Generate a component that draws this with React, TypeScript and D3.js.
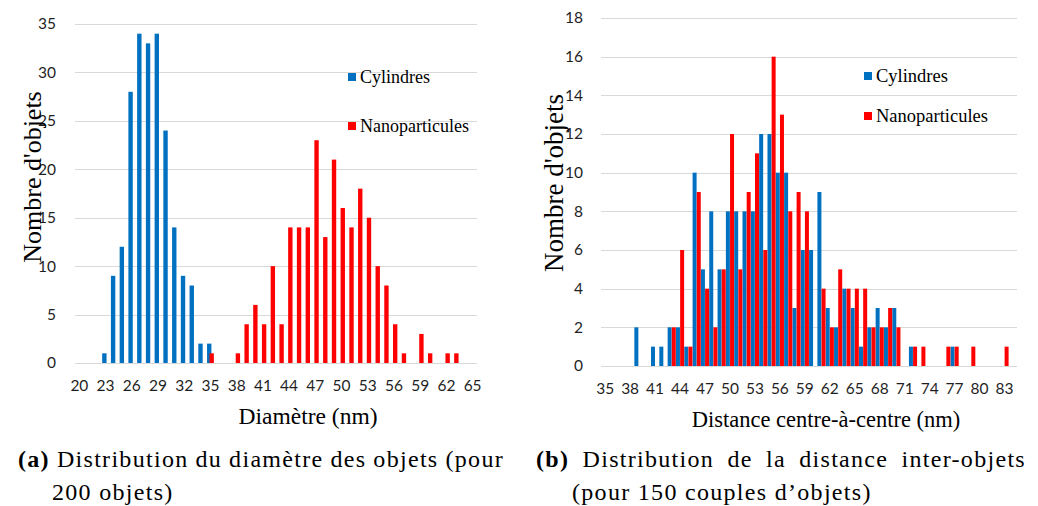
import React, { useEffect, useRef } from "react";
import * as d3 from "d3";

// ---------- Data ----------
const diamCategories: number[] = d3.range(20, 66);
const diamYTicks: number[] = [0, 5, 10, 15, 20, 25, 30, 35];
const diamCylindres: [number, number][] = [
  [23, 1], [24, 9], [25, 12], [26, 28], [27, 34], [28, 33], [29, 34], [30, 24],
  [31, 14], [32, 9], [33, 8], [34, 2], [35, 2],
];
const diamNano: [number, number][] = [
  [35, 1], [38, 1], [39, 4], [40, 6], [41, 4], [42, 10], [43, 4], [44, 14], [45, 14],
  [46, 14], [47, 23], [48, 13], [49, 21], [50, 16], [51, 14], [52, 18], [53, 15],
  [54, 10], [55, 8], [56, 4], [57, 1], [59, 3], [60, 1], [62, 1], [63, 1],
];

const distCategories: number[] = d3.range(35, 85);
const distYTicks: number[] = [0, 2, 4, 6, 8, 10, 12, 14, 16, 18];
const distCylindres: [number, number][] = [
  [39, 2], [41, 1], [42, 1], [43, 2], [44, 2], [45, 1], [46, 10], [47, 5], [48, 8],
  [49, 5], [50, 8], [51, 8], [52, 8], [53, 8], [54, 12], [55, 12], [56, 10], [57, 10],
  [58, 3], [59, 6], [60, 6], [61, 9], [62, 3], [63, 2], [64, 4], [65, 3], [66, 1],
  [67, 2], [68, 3], [69, 2], [70, 3], [72, 1], [77, 1],
];
const distNano: [number, number][] = [
  [43, 2], [44, 6], [45, 1], [46, 9], [47, 4], [48, 2], [49, 5], [50, 12], [51, 5],
  [52, 9], [53, 11], [54, 6], [55, 16], [56, 13], [57, 8], [58, 9], [59, 8], [61, 4],
  [62, 2], [63, 5], [64, 4], [65, 4], [66, 4], [67, 2], [68, 2], [69, 3], [70, 2],
  [72, 1], [73, 1], [76, 1], [77, 1], [79, 1], [83, 1],
];

const seriesNames = ["Cylindres", "Nanoparticules"];
const BLUE = "#0070C0";
const RED = "#FF0000";
const GRID = "#d9d9d9";
const TICK_FONT = "Lato, 'Open Sans', sans-serif";
const SERIF = "'Liberation Serif', 'Times New Roman', serif";

type Panel = {
  categories: number[];
  yTicks: number[];
  yMax: number;
  x0: number;
  x1: number;
  yTop: number;
  yBottom: number;
  barFrac: number;
  offset: number;
  cyl: [number, number][];
  nano: [number, number][];
  yLabelX: number;
  yTitleX: number;
  yTitleY: number;
  yTitleSize: number;
  xTitle: string;
  xTitleX: number;
  xTitleSize: number;
  legendX: number;
  legendY: [number, number];
  legendSize: number;
};

function drawPanel(g: d3.Selection<SVGGElement, unknown, null, undefined>, p: Panel) {
  const x = d3.scaleBand<number>().domain(p.categories).range([p.x0, p.x1]).padding(0);
  const y = d3.scaleLinear().domain([0, p.yMax]).range([p.yBottom, p.yTop]);
  const bw = x.bandwidth();

  g.append("g")
    .selectAll("line")
    .data(p.yTicks)
    .join("line")
    .attr("x1", p.x0)
    .attr("x2", p.x1)
    .attr("y1", (d) => Math.round(y(d)) + 0.5)
    .attr("y2", (d) => Math.round(y(d)) + 0.5)
    .attr("stroke", GRID)
    .attr("stroke-width", 1);

  g.append("g")
    .selectAll("text")
    .data(p.yTicks)
    .join("text")
    .attr("x", p.yLabelX)
    .attr("y", (d) => y(d))
    .attr("dy", "0.35em")
    .attr("text-anchor", "end")
    .attr("font-family", TICK_FONT)
    .attr("font-size", 15.5)
    .attr("fill", "#1f1f1f")
    .text((d) => String(d));

  g.append("g")
    .selectAll("text")
    .data(p.categories.filter((_, i) => i % 3 === 0))
    .join("text")
    .attr("x", (d) => (x(d) as number) + bw / 2)
    .attr("y", p.yBottom + 28)
    .attr("text-anchor", "middle")
    .attr("font-family", TICK_FONT)
    .attr("font-size", 15.5)
    .attr("fill", "#1f1f1f")
    .text((d) => String(d));

  const series = [
    { data: p.cyl, color: BLUE, off: -p.offset },
    { data: p.nano, color: RED, off: p.offset },
  ];
  series.forEach((s) => {
    g.append("g")
      .selectAll("rect")
      .data(s.data)
      .join("rect")
      .attr("x", (d) => (x(d[0]) as number) + bw * (0.5 + s.off - p.barFrac / 2))
      .attr("width", bw * p.barFrac)
      .attr("y", (d) => y(d[1]))
      .attr("height", (d) => y(0) - y(d[1]))
      .attr("fill", s.color);
  });

  // axis titles
  g.append("text")
    .attr("transform", `translate(${p.yTitleX},${p.yTitleY}) rotate(-90)`)
    .attr("text-anchor", "middle")
    .attr("font-family", SERIF)
    .attr("font-size", p.yTitleSize)
    .attr("fill", "#000")
    .text("Nombre d'objets");

  g.append("text")
    .attr("x", p.xTitleX)
    .attr("y", p.yBottom + 61)
    .attr("text-anchor", "middle")
    .attr("font-family", SERIF)
    .attr("font-size", p.xTitleSize)
    .attr("fill", "#000")
    .text(p.xTitle);

  // legend
  [BLUE, RED].forEach((c, i) => {
    const ly = p.legendY[i];
    g.append("rect")
      .attr("x", p.legendX)
      .attr("y", ly - 4)
      .attr("width", 8)
      .attr("height", 8)
      .attr("fill", c);
    g.append("text")
      .attr("x", p.legendX + 12)
      .attr("y", ly)
      .attr("dy", "0.35em")
      .attr("font-family", SERIF)
      .attr("font-size", p.legendSize)
      .attr("fill", "#000")
      .text(seriesNames[i]);
  });
}

function justify(
  t: d3.Selection<SVGTextElement, unknown, null, undefined>,
  target: number,
  spaces: number
) {
  const node = t.node();
  if (!node) return;
  const w = node.getComputedTextLength();
  const extra = (target - w) / spaces;
  t.attr("word-spacing", extra);
}

export default function App() {
  const ref = useRef<SVGSVGElement>(null);

  useEffect(() => {
    const svg = d3.select(ref.current as SVGSVGElement);
    svg.selectAll("*").remove();

    drawPanel(svg.append("g"), {
      categories: diamCategories,
      yTicks: diamYTicks,
      yMax: 35,
      x0: 75,
      x1: 477,
      yTop: 24,
      yBottom: 363,
      barFrac: 0.5,
      offset: 0.14,
      cyl: diamCylindres,
      nano: diamNano,
      yLabelX: 56,
      yTitleX: 41,
      yTitleY: 177,
      yTitleSize: 26,
      xTitle: "Diamètre (nm)",
      xTitleX: 308,
      xTitleSize: 23.5,
      legendX: 348,
      legendY: [77, 126],
      legendSize: 18,
    });

    drawPanel(svg.append("g"), {
      categories: distCategories,
      yTicks: distYTicks,
      yMax: 18,
      x0: 601,
      x1: 1017,
      yTop: 18,
      yBottom: 366,
      barFrac: 0.48,
      offset: 0.25,
      cyl: distCylindres,
      nano: distNano,
      yLabelX: 583,
      yTitleX: 563,
      yTitleY: 183,
      yTitleSize: 27,
      xTitle: "Distance centre-à-centre (nm)",
      xTitleX: 826,
      xTitleSize: 22.5,
      legendX: 864,
      legendY: [76, 116],
      legendSize: 18.5,
    });

    // captions
    const capFont = 24;
    const ls = 1.3;
    const capA = svg
      .append("text")
      .attr("x", 18)
      .attr("y", 467)
      .attr("font-family", SERIF)
      .attr("font-size", capFont)
      .attr("letter-spacing", ls)
      .attr("fill", "#000");
    capA.append("tspan").attr("font-weight", "bold").text("(a)");
    capA.append("tspan").text(" Distribution du diamètre des objets (pour");
    justify(capA, 486, 6);

    svg
      .append("text")
      .attr("x", 52)
      .attr("y", 500)
      .attr("font-family", SERIF)
      .attr("font-size", capFont)
      .attr("letter-spacing", ls)
      .attr("fill", "#000")
      .text("200 objets)");

    const capB = svg
      .append("text")
      .attr("x", 536)
      .attr("y", 467)
      .attr("font-family", SERIF)
      .attr("font-size", capFont)
      .attr("letter-spacing", ls)
      .attr("fill", "#000");
    capB.append("tspan").attr("font-weight", "bold").text("(b)");
    capB.append("tspan").text(" Distribution de la distance inter-objets");
    justify(capB, 490, 5);

    svg
      .append("text")
      .attr("x", 572)
      .attr("y", 500)
      .attr("font-family", SERIF)
      .attr("font-size", capFont)
      .attr("letter-spacing", ls)
      .attr("fill", "#000")
      .text("(pour 150 couples d’objets)");
  }, []);

  return (
    <svg
      ref={ref}
      width={1038}
      height={506}
      style={{ position: "absolute", left: 0, top: 0, background: "#fff" }}
    />
  );
}
